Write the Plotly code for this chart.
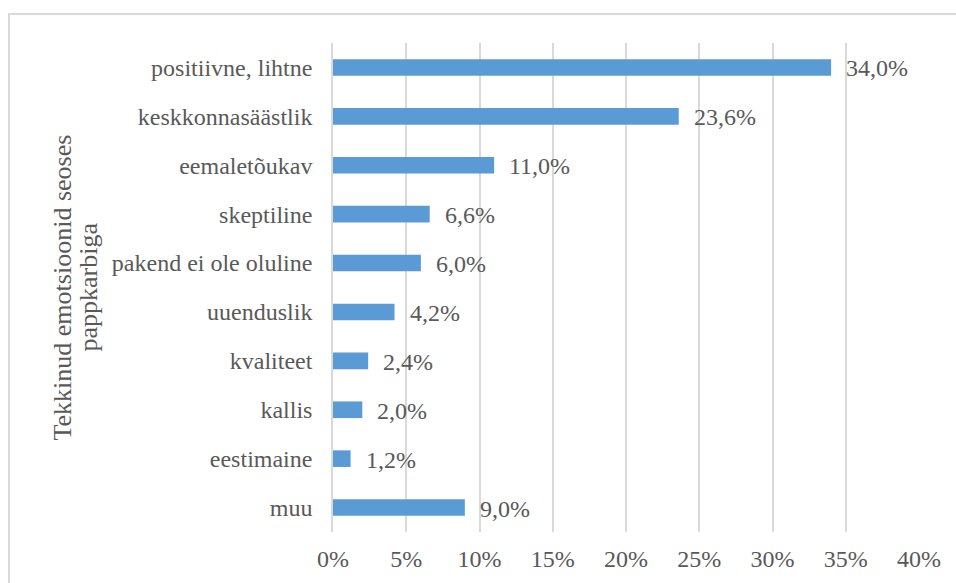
import plotly.graph_objects as go

# Emotions associated with cardboard packaging (share of respondents, %)
categories = [
    "positiivne, lihtne",
    "keskkonnasäästlik",
    "eemaletõukav",
    "skeptiline",
    "pakend ei ole oluline",
    "uuenduslik",
    "kvaliteet",
    "kallis",
    "eestimaine",
    "muu",
]
values = [34.0, 23.6, 11.0, 6.6, 6.0, 4.2, 2.4, 2.0, 1.2, 9.0]
tick_vals = [0, 5, 10, 15, 20, 25, 30, 35, 40]
tick_text = [f"{t}%" for t in tick_vals]
title_lines = ["Tekkinud emotsioonid seoses", "pappkarbiga"]

FONT = "Liberation Serif"
TXT = "#595959"
GRID = "#D9D9D9"
BAR = "#5B9BD5"

W, H = 956, 583
ML, MR, MT, MB = 333, 37, 43, 51
PW, PH = W - ML - MR, H - MT - MB

def fmt(v):
    return f"{v:.1f}".replace(".", ",") + "%"

fig = go.Figure(
    go.Bar(
        x=values,
        y=categories,
        orientation="h",
        marker=dict(color=BAR, line=dict(width=0)),
        hoverinfo="skip",
    )
)

annotations = []
# value labels to the right of each bar
for c, v in zip(categories, values):
    annotations.append(dict(
        x=v, y=c, xref="x", yref="y", text=fmt(v), showarrow=False,
        xanchor="left", yanchor="middle", xshift=13, yshift=-1,
        font=dict(family=FONT, size=24, color=TXT),
    ))

# two-line rotated axis title
for line, px in zip(title_lines, [62, 88]):
    annotations.append(dict(
        x=0, y=0.5, xref="paper", yref="paper", text=line, showarrow=False,
        xanchor="center", yanchor="middle", textangle=-90, xshift=px - ML,
        font=dict(family=FONT, size=26, color=TXT),
    ))

# light outer frame around the chart
shapes = [dict(
    type="rect", xref="paper", yref="paper",
    x0=(9 - ML) / PW, x1=(W + 10 - ML) / PW,
    y0=(H - MB - (H + 10)) / PH, y1=(H - MB - 14) / PH,
    line=dict(color=GRID, width=2), fillcolor="rgba(0,0,0,0)", layer="below",
)]

fig.update_layout(
    width=W, height=H,
    margin=dict(l=ML, r=MR, t=MT, b=MB, pad=0),
    paper_bgcolor="white", plot_bgcolor="white",
    bargap=0.66,
    showlegend=False,
    font=dict(family=FONT, size=24, color=TXT),
    annotations=annotations,
    shapes=shapes,
    xaxis=dict(
        range=[0, 40], tickvals=tick_vals, ticktext=tick_text,
        showgrid=True, gridcolor=GRID, gridwidth=1.5,
        zeroline=False, showline=False, ticks="", ticklabelstandoff=10,
        tickfont=dict(family=FONT, size=24, color=TXT),
        fixedrange=True,
    ),
    yaxis=dict(
        autorange="reversed",
        showgrid=False, zeroline=False,
        showline=True, linecolor=GRID, linewidth=1.5,
        ticks="", ticklabelstandoff=14,
        tickfont=dict(family=FONT, size=24, color=TXT),
        fixedrange=True,
    ),
)

fig.write_html("out.html")
